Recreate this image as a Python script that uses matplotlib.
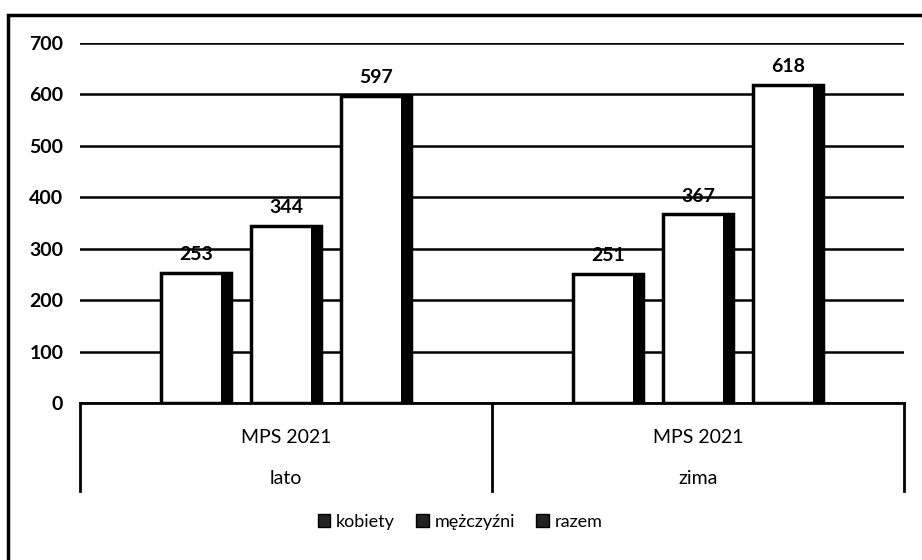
import numpy as np
import matplotlib.pyplot as plt
from matplotlib.patches import Patch, Rectangle

plt.rcParams['font.family'] = ['Lato', 'DejaVu Sans']

groups = ['lato', 'zima']
group_top = ['MPS 2021', 'MPS 2021']
series = ['kobiety', 'mężczyźni', 'razem']
kobiety = [253, 251]
mezczyzni = [344, 367]
razem = [597, 618]
yticks = [0, 100, 200, 300, 400, 500, 600, 700]

fig = plt.figure(figsize=(9.22, 5.6), dpi=100)
# outer frame of the scanned chart (cut off at right and bottom)
fig.patches.append(Rectangle((8/922, -0.2), 1.2, 1.2 - 15/560, transform=fig.transFigure,
                             fill=False, edgecolor='black', lw=2.5))

ax = fig.add_axes([80/922, 1 - 403/560, 824/922, 360/560])
ax.set_xlim(0, 2)
ax.set_ylim(0, 700)

w = 0.17
gap = 0.218
shadow = 0.025
centers = np.array([0.5, 1.5])
for i, vals in enumerate([kobiety, mezczyzni, razem]):
    xs = centers + (i - 1) * gap
    ax.bar(xs, vals, w, color='white', edgecolor='black', lw=2.5, zorder=3)
    ax.bar(xs + w/2 - shadow/2, vals, shadow, color='black', zorder=4)
    for x, v in zip(xs, vals):
        ax.annotate(str(v), (x, v), xytext=(0, 7), textcoords='offset points',
                    ha='center', va='bottom', fontsize=14, fontweight='bold', zorder=5)

ax.set_yticks(yticks)
ax.set_yticklabels([str(t) for t in yticks], fontsize=14, fontweight='bold')
ax.tick_params(axis='y', length=0, pad=12)
ax.set_xticks([])
ax.grid(axis='y', color='black', lw=1.8, zorder=0)
for s in ['top', 'right', 'left']:
    ax.spines[s].set_visible(False)
ax.spines['bottom'].set_linewidth(2)

# category axis with group separators
trans = ax.get_xaxis_transform()
for xb in [0, 1, 2]:
    ax.plot([xb, xb], [0, -0.245], transform=trans, color='black', lw=2, clip_on=False)
for c, top, g in zip(centers, group_top, groups):
    ax.text(c, -0.095, top, transform=trans, ha='center', va='center', fontsize=14)
    ax.text(c, -0.21, g, transform=trans, ha='center', va='center', fontsize=14)

handles = [Patch(facecolor='#222222', edgecolor='black', label=s) for s in series]
fig.legend(handles=handles, loc='center', bbox_to_anchor=(460/922, 1 - 522/560), ncol=3,
           frameon=False, fontsize=13, handlelength=0.7, handleheight=0.7,
           handletextpad=0.3, columnspacing=1.2)

fig.savefig('out.png', dpi=100)
